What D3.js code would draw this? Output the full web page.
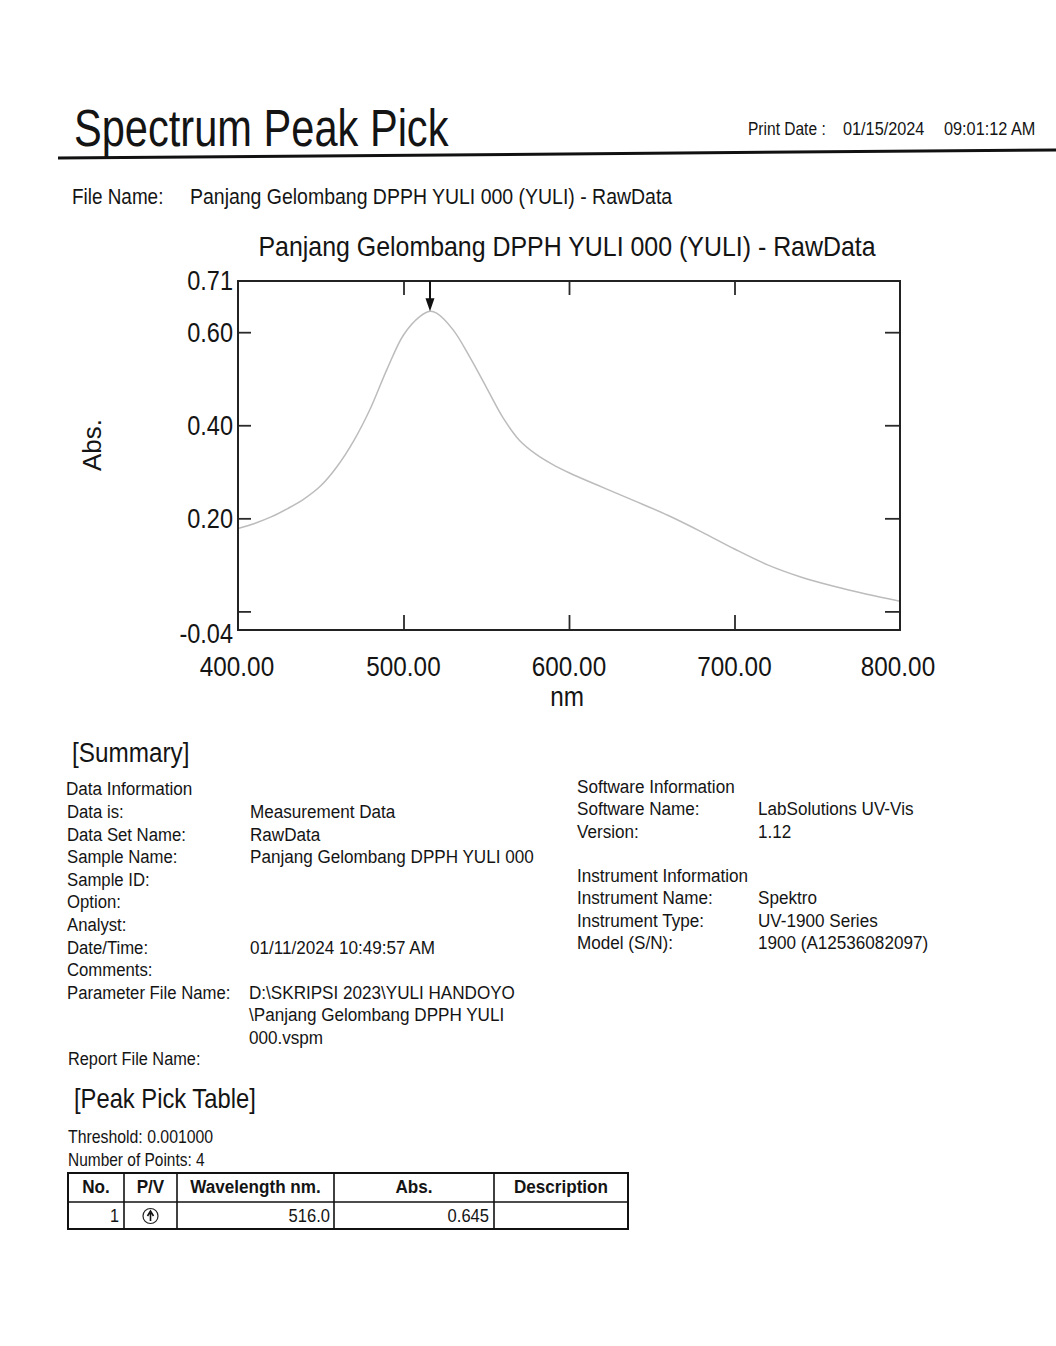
<!DOCTYPE html>
<html><head><meta charset="utf-8">
<script src="https://cdn.jsdelivr.net/npm/d3@7"></script>
<style>body{margin:0;background:#fff}svg{display:block}text{font-family:"Liberation Sans",Arial,sans-serif;fill:#141414}</style>
</head><body><svg id="c" width="1056" height="1346"></svg>
<script>
// ---- data ----
const wavelengths = [400,410,420,430,440,450,460,470,480,490,500,510,516,520,530,540,550,560,570,580,590,600,620,640,660,680,700,720,740,760,780,800];
const absorbance  = [0.178,0.189,0.203,0.221,0.242,0.270,0.312,0.367,0.436,0.520,0.594,0.634,0.645,0.641,0.605,0.547,0.482,0.417,0.368,0.338,0.316,0.298,0.267,0.237,0.206,0.171,0.134,0.100,0.074,0.054,0.037,0.022];
const xTickValues = [400,500,600,700,800];
const xTickLabels = ["400.00","500.00","600.00","700.00","800.00"];
const yTickMarks  = [0.60,0.40,0.20,0.00];
const yLabelValues = [0.71,0.60,0.40,0.20,-0.04];
const yLabelTexts  = ["0.71","0.60","0.40","0.20","-0.04"];
const peakWavelength = [516.0];
const peakAbs = [0.645];
const dataInfoLabels = ["Data is:","Data Set Name:","Sample Name:","Sample ID:","Option:","Analyst:","Date/Time:","Comments:","Parameter File Name:"];
const dataInfoValues = ["Measurement Data","RawData","Panjang Gelombang DPPH YULI 000","","","","01/11/2024 10:49:57 AM","",""];
const paramFileLines = ["D:\\SKRIPSI 2023\\YULI HANDOYO","\\Panjang Gelombang DPPH YULI","000.vspm"];
const softLabels = ["Software Name:","Version:"];
const softValues = ["LabSolutions UV-Vis","1.12"];
const instLabels = ["Instrument Name:","Instrument Type:","Model (S/N):"];
const instValues = ["Spektro","UV-1900 Series","1900 (A12536082097)"];
const tableHeaders = ["No.","P/V","Wavelength nm.","Abs.","Description"];

// ---- drawing ----
const svg = d3.select("#c");
function txt(x,y,s,size,o={}){
  const t = svg.append("text")
    .attr("transform",`translate(${x},${y}) scale(${o.sx||0.9},1)`)
    .attr("font-size",size)
    .attr("text-anchor",o.anchor||"start")
    .attr("font-weight",o.weight||"normal")
    .text(s);
  return t;
}

// header
txt(74,146,"Spectrum Peak Pick",52,{sx:0.8});
txt(748,135,"Print Date :",18.5,{sx:0.84});
txt(843,135,"01/15/2024",18.5,{sx:0.88});
txt(944,135,"09:01:12 AM",18.5,{sx:0.88});
svg.append("line").attr("x1",58).attr("y1",158).attr("x2",1056).attr("y2",150).attr("stroke","#111").attr("stroke-width",3);
txt(72,204,"File Name:",22,{sx:0.86});
txt(190,204,"Panjang Gelombang DPPH YULI 000 (YULI) - RawData",22,{sx:0.885});

// chart
const x = d3.scaleLinear().domain([400,800]).range([238,900]);
const y = d3.scaleLinear().domain([-0.04,0.71]).range([630,281]);
txt(567,256,"Panjang Gelombang DPPH YULI 000 (YULI) - RawData",28,{anchor:"middle",sx:0.89});

const line = d3.line().x((d,i)=>x(wavelengths[i])).y(d=>y(d)).curve(d3.curveCatmullRom.alpha(0.5));
svg.append("path").datum(absorbance).attr("d",line).attr("fill","none")
  .attr("stroke","#bcbcbc").attr("stroke-width",1.5);

const axStyle = g=>g.call(s=>s.select(".domain").remove()).selectAll("line").attr("stroke","#2a2a2a").attr("stroke-width",1.8);
svg.append("g").attr("transform",`translate(${x(400)},0)`).call(d3.axisLeft(y).tickValues(yTickMarks).tickSize(-13).tickFormat("")).call(axStyle);
svg.append("g").attr("transform",`translate(${x(800)},0)`).call(d3.axisRight(y).tickValues(yTickMarks).tickSize(-15).tickFormat("")).call(axStyle);
svg.append("g").attr("transform",`translate(0,${y(-0.04)})`).call(d3.axisBottom(x).tickValues(xTickValues.slice(1,4)).tickSize(-15).tickFormat("")).call(axStyle);
svg.append("g").attr("transform",`translate(0,${y(0.71)})`).call(d3.axisTop(x).tickValues(xTickValues.slice(1,4)).tickSize(-14).tickFormat("")).call(axStyle);
svg.append("rect").attr("x",x(400)).attr("y",y(0.71)).attr("width",x(800)-x(400)).attr("height",y(-0.04)-y(0.71))
  .attr("fill","none").attr("stroke","#222").attr("stroke-width",2);

yLabelValues.forEach((v,i)=>{
  const off = i===0?9:(i===yLabelValues.length-1?13:10);
  txt(233,y(v)+off,yLabelTexts[i],27,{anchor:"end",sx:0.87});
});
xTickValues.forEach((v,i)=>{ txt(x(v)+(i===0?-1:(i===4?-2:0)),676,xTickLabels[i],27,{anchor:"middle",sx:0.9}); });
txt(567,706,"nm",27,{anchor:"middle",sx:0.9});
svg.append("text").attr("transform",`translate(101,445) rotate(-90)`).attr("font-size",26).attr("text-anchor","middle").text("Abs.");

// peak arrow
peakWavelength.forEach((w,i)=>{
  const px = x(w), tip = y(peakAbs[i]);
  svg.append("line").attr("x1",px).attr("x2",px).attr("y1",y(0.71)).attr("y2",tip-10).attr("stroke","#111").attr("stroke-width",2);
  svg.append("path").attr("d",`M${px-4.5},${tip-13}L${px+4.5},${tip-13}L${px},${tip}Z`).attr("fill","#111");
});

// summary
txt(72,762,"[Summary]",27,{sx:0.9});
const fs = 19, lh = 22.6;
txt(66,795,"Data Information",fs,{sx:0.9});
dataInfoLabels.forEach((l,i)=>{
  const yy = 818 + i*lh;
  txt(67,yy,l,fs,{sx:0.88});
  if(dataInfoValues[i]) txt(250,yy,dataInfoValues[i],fs,{sx:0.9});
});
paramFileLines.forEach((l,i)=>{ txt(249,818+8*lh+i*lh,l,fs,{sx:0.9}); });
txt(68,1065,"Report File Name:",fs,{sx:0.86});

txt(577,793,"Software Information",fs,{sx:0.9});
softLabels.forEach((l,i)=>{ txt(577,815+i*lh,l,fs,{sx:0.9}); txt(758,815+i*lh,softValues[i],fs,{sx:0.9}); });
txt(577,882,"Instrument Information",fs,{sx:0.9});
instLabels.forEach((l,i)=>{ txt(577,904+i*lh,l,fs,{sx:0.9}); txt(758,904+i*lh,instValues[i],fs,{sx:0.9}); });

// peak pick table
txt(74,1108,"[Peak Pick Table]",27,{sx:0.88});
txt(68,1143,"Threshold: 0.001000",18,{sx:0.88});
txt(68,1166,"Number of Points: 4",18,{sx:0.86});
const colX = [68,124,177,334,494,628];
const tTop = 1173, tMid = 1202, tBot = 1229;
svg.append("rect").attr("x",colX[0]).attr("y",tTop).attr("width",colX[5]-colX[0]).attr("height",tBot-tTop).attr("fill","none").attr("stroke","#111").attr("stroke-width",2);
svg.append("line").attr("x1",colX[0]).attr("x2",colX[5]).attr("y1",tMid).attr("y2",tMid).attr("stroke","#111").attr("stroke-width",1.6);
colX.slice(1,5).forEach(cx=>svg.append("line").attr("x1",cx).attr("x2",cx).attr("y1",tTop).attr("y2",tBot).attr("stroke","#111").attr("stroke-width",1.6));
tableHeaders.forEach((h,i)=>{ txt((colX[i]+colX[i+1])/2,1193,h,19,{anchor:"middle",weight:"bold",sx:0.9}); });
peakWavelength.forEach((w,i)=>{
  const ry = 1222;
  txt(colX[1]-5,ry,String(i+1),18,{anchor:"end"});
  const cx = (colX[1]+colX[2])/2, cy = 1216;
  svg.append("circle").attr("cx",cx).attr("cy",cy).attr("r",7.5).attr("fill","none").attr("stroke","#222").attr("stroke-width",1.2);
  svg.append("path").attr("d",`M${cx},${cy+5}V${cy-3}M${cx-3},${cy}L${cx},${cy-5}L${cx+3},${cy}`).attr("fill","none").attr("stroke","#111").attr("stroke-width",1.6);
  txt(colX[3]-4,ry,w.toFixed(1),18,{anchor:"end",sx:0.92});
  txt(colX[4]-5,ry,peakAbs[i].toFixed(3),18,{anchor:"end",sx:0.92});
});
</script></body></html>
